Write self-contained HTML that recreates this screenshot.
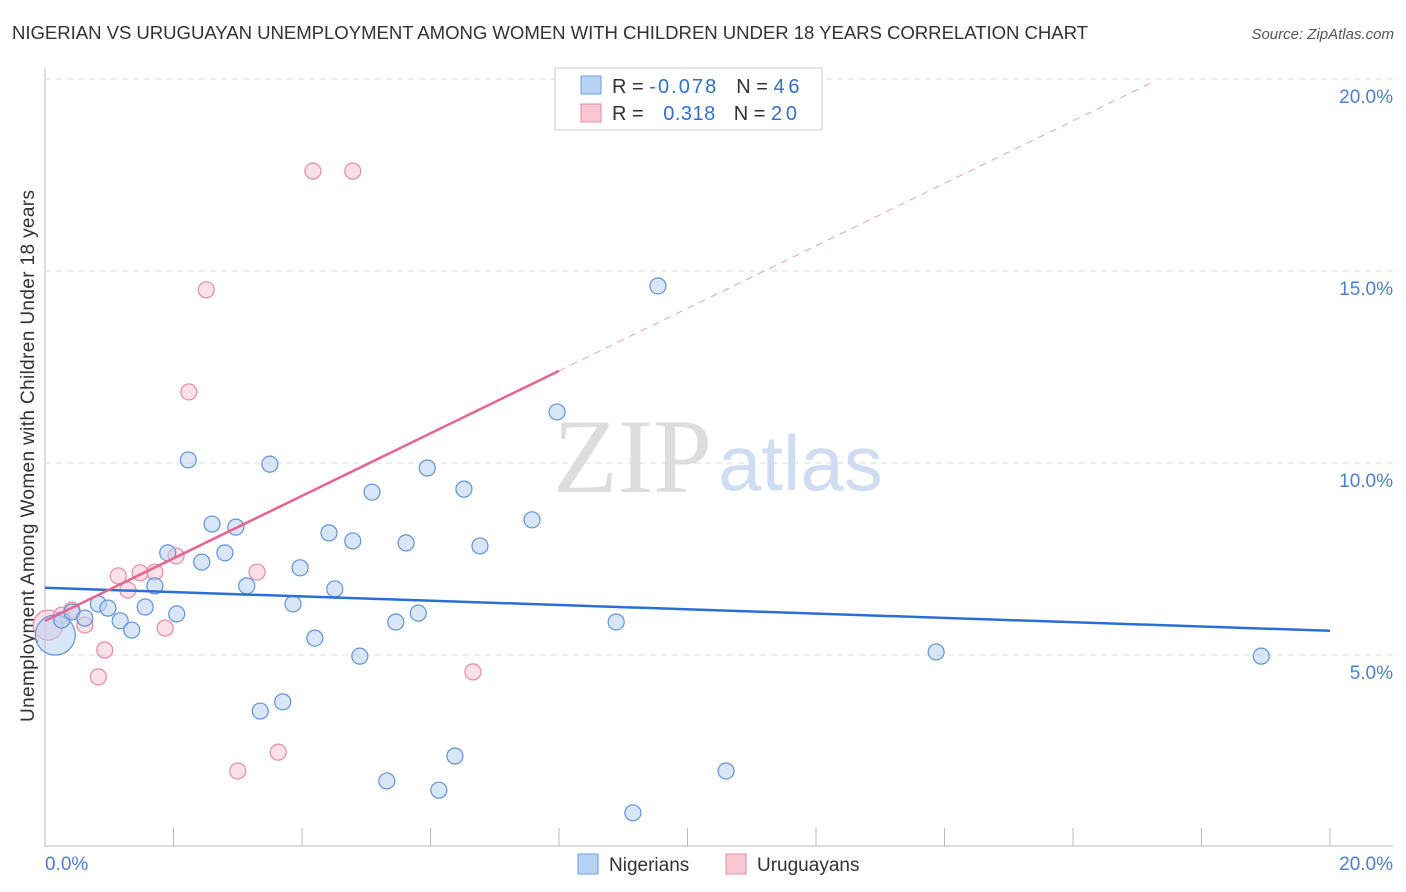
<!DOCTYPE html>
<html><head><meta charset="utf-8"><style>
body{margin:0;background:#fff;font-family:"Liberation Sans",sans-serif;}
svg{display:block}
</style></head><body>
<svg id="chart" width="1406" height="892">
<text x="12" y="39" font-size="18.6" fill="#333" textLength="1076">NIGERIAN VS URUGUAYAN UNEMPLOYMENT AMONG WOMEN WITH CHILDREN UNDER 18 YEARS CORRELATION CHART</text>
<text x="1394" y="39" font-size="15" fill="#555" font-style="italic" text-anchor="end">Source: ZipAtlas.com</text>
<text x="0" y="0" transform="translate(34,456) rotate(-90)" font-size="19" fill="#333" text-anchor="middle" textLength="532">Unemployment Among Women with Children Under 18 years</text>
<text x="553" y="492" font-size="106" fill="#ddd" font-family="Liberation Serif">ZIP</text>
<text x="718" y="490" font-size="78" fill="#cfdcf2">atlas</text>
<g id="grid"></g><g id="marks"></g>
<g>
<rect x="555" y="68" width="267" height="62" fill="#fff" stroke="#ccc"/>
<rect x="581" y="76" width="20" height="18" fill="#b8d2f3" stroke="#6f9ee0"/>
<rect x="581" y="104" width="20" height="18" fill="#f9c6d4" stroke="#e68aa5"/>
<text x="612" y="93" font-size="20" fill="#333">R = <tspan fill="#2f6fd1" textLength="67">-0.078</tspan><tspan dx="18">N = </tspan><tspan fill="#2f6fd1" textLength="26">46</tspan></text>
<text x="612" y="120" font-size="20" fill="#333">R = <tspan dx="14" fill="#2f6fd1" textLength="52">0.318</tspan><tspan dx="18">N = </tspan><tspan fill="#2f6fd1" textLength="26">20</tspan></text>
</g>
<g>
<rect x="578" y="854" width="20" height="20" fill="#b8d2f3" stroke="#6f9ee0"/>
<text x="609" y="871" font-size="19" fill="#333">Nigerians</text>
<rect x="726" y="854" width="20" height="20" fill="#f9c6d4" stroke="#e68aa5"/>
<text x="757" y="871" font-size="19" fill="#333">Uruguayans</text>
</g>
</svg>
<script>
const blueX=[0.16,0.26,0.42,0.62,0.83,0.98,1.17,1.35,1.56,1.71,1.91,2.05,2.23,2.44,2.60,2.80,2.97,3.14,3.35,3.50,3.70,3.86,3.97,4.20,4.42,4.51,4.79,4.90,5.09,5.32,5.46,5.62,5.81,5.95,6.13,6.38,6.52,6.77,7.58,7.97,8.89,9.15,9.54,10.60,13.87,18.93];
const blueY=[5.52,5.91,6.12,5.96,6.33,6.22,5.89,5.65,6.25,6.80,7.66,6.07,10.08,7.42,8.41,7.66,8.33,6.80,3.54,9.97,3.78,6.33,7.27,5.44,8.18,6.72,7.97,4.97,9.24,1.72,5.86,7.92,6.09,9.87,1.48,2.37,9.32,7.84,8.52,11.33,5.86,0.89,14.61,1.98,5.08,4.97];
const pinkX=[0.05,0.26,0.42,0.62,0.83,0.93,1.14,1.29,1.48,1.71,1.87,2.04,2.24,2.51,3.00,3.30,3.63,4.17,4.79,6.66];
const pinkY=[5.78,6.04,6.17,5.78,4.43,5.13,7.06,6.69,7.14,7.16,5.70,7.58,11.85,14.51,1.98,7.16,2.47,17.60,17.60,4.56];
const blueTrend=[6.75,5.63]; // y at x=0 and x=20
const pinkTrend=[5.89,12.40,8.0]; // y@0, y@8.0 (solid end)
const X0=45,X1=1330,Y0=847,PY=38.4;
const sx=v=>X0+(X1-X0)*v/20, sy=v=>Y0-v*PY;
const NS="http://www.w3.org/2000/svg";
function mk(t,a,p){const e=document.createElementNS(NS,t);for(const k in a)e.setAttribute(k,a[k]);p.appendChild(e);return e;}
const grid=document.getElementById('grid'),marks=document.getElementById('marks');
const yTicks=[5,10,15,20],yLabels=["5.0%","10.0%","15.0%","20.0%"];
yTicks.forEach((t,i)=>{
 const l=mk('line',{x1:45,x2:1393,y1:sy(t),y2:sy(t),stroke:'#ddd','stroke-dasharray':'6,5'},grid);
 
 
 const tx=mk('text',{x:1393,y:sy(t)+24,'font-size':19,fill:'#4a7fd6','text-anchor':'end'},grid);tx.textContent=yLabels[i];
 
 
});
mk('line',{x1:45,x2:45,y1:68,y2:847,stroke:'#bbb'},grid);
mk('line',{x1:45,x2:1393,y1:846,y2:846,stroke:'#bbb'},grid);
for(let i=1;i<=10;i++){mk('line',{x1:sx(i*2),x2:sx(i*2),y1:828,y2:846,stroke:'#bbb'},grid);}
const xl=[["0.0%",'start',45],["20.0%",'end',1393]];
xl.forEach(d=>{const t=mk('text',{x:d[2],y:870,'font-size':19,fill:'#4a7fd6','text-anchor':d[1]},grid);t.textContent=d[0];
 
 });
function dot(x,y,r,fill,stroke,name){const c=mk('circle',{cx:sx(x),cy:sy(y),r:r,fill:fill,'fill-opacity':0.55,stroke:stroke,'stroke-width':1.2},marks);
 
 }
pinkX.forEach((x,i)=>dot(x,pinkY[i],i==0?15:8,'#f9c6d4','#e68aa5','uruguayan-point'));
blueX.forEach((x,i)=>dot(x,blueY[i],i==0?20:8,'#b8d2f3','#5f93dd','nigerian-point'));
let l=mk('line',{x1:sx(0),y1:sy(blueTrend[0]),x2:sx(20),y2:sy(blueTrend[1]),stroke:'#2a6fd6','stroke-width':2.5},marks);


l=mk('line',{x1:sx(0),y1:sy(pinkTrend[0]),x2:sx(pinkTrend[2]),y2:sy(pinkTrend[1]),stroke:'#e8648e','stroke-width':2.5},marks);


const slope=(pinkTrend[1]-pinkTrend[0])/pinkTrend[2];
l=mk('line',{x1:sx(pinkTrend[2]),y1:sy(pinkTrend[1]),x2:sx(17.2),y2:sy(pinkTrend[0]+slope*17.2),stroke:'#e8a0b6','stroke-width':1,'stroke-dasharray':'7,6'},marks);


</script>
</body></html>
